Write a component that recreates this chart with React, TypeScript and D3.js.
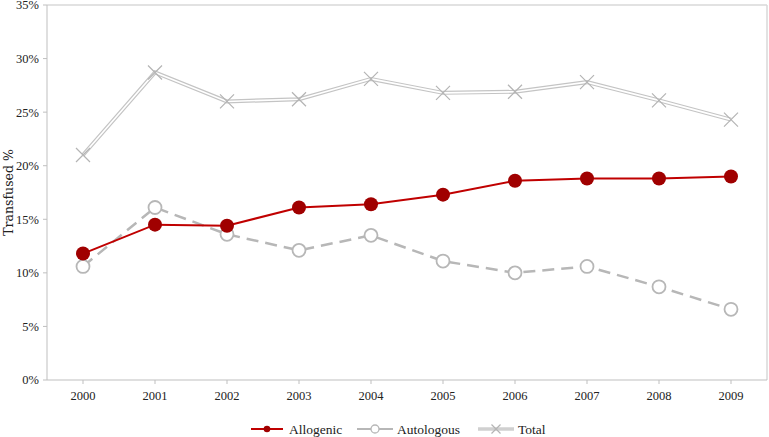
import React from "react";
import * as d3 from "d3";

const years = ["2000","2001","2002","2003","2004","2005","2006","2007","2008","2009"];
const allogenic = [11.8, 14.5, 14.4, 16.1, 16.4, 17.3, 18.6, 18.8, 18.8, 19.0];
const autologous = [10.6, 16.1, 13.6, 12.1, 13.5, 11.1, 10.0, 10.6, 8.7, 6.6];
const total = [21.0, 28.7, 26.0, 26.2, 28.1, 26.8, 26.9, 27.8, 26.1, 24.3];
const yTicks = [0, 5, 10, 15, 20, 25, 30, 35];

const W = 769, H = 437;
const L = 47, R = 767, T = 5, B = 380;
const FONT = "'Liberation Serif', serif";
const TFONT = "'DejaVu Serif', serif";

export default function App() {
  const x = d3.scaleBand().domain(years).range([L, R]);
  const cx = (y: string) => (x(y) as number) + x.bandwidth() / 2;
  const y = d3.scaleLinear().domain([0, 35]).range([B, T]);
  const line = d3.line<number>().x((_, i) => cx(years[i])).y(d => y(d));
  const grid = "#bfbfbf";
  const red = "#c00000";
  const dark = "#a00000";
  const gray = "#b7b7b7";
  const xs = (px: number, py: number, s: number, k: string) => (
    <path key={k} d={`M${px - s},${py - s}L${px + s},${py + s}M${px - s},${py + s}L${px + s},${py - s}`} stroke="#b4b4b4" strokeWidth={1.2} fill="none" />
  );
  return (
    <svg width={W} height={H} style={{ position: "absolute", left: 0, top: 0 }} fontFamily={FONT}>
      <rect x={0} y={0} width={W} height={H} fill="#fff" />
      <line x1={L} x2={R} y1={T} y2={T} stroke="#d9d9d9" strokeWidth={1.5} />
      <line x1={R} x2={R} y1={T} y2={B} stroke="#d9d9d9" strokeWidth={1.5} />
      <line x1={L} x2={L} y1={T} y2={B} stroke={grid} strokeWidth={1} />
      <line x1={L} x2={R} y1={B} y2={B} stroke={grid} strokeWidth={1} />
      {yTicks.map(t => (
        <g key={t}>
          <line x1={L - 4} x2={L} y1={y(t)} y2={y(t)} stroke={grid} />
          <text x={L - 8} y={y(t)} dy="0.35em" textAnchor="end" fontSize={12.5} fill="#222">{t}%</text>
        </g>
      ))}
      {years.map(yr => (
        <g key={yr}>
          <line x1={cx(yr)} x2={cx(yr)} y1={B} y2={B + 4} stroke={grid} />
          <text x={cx(yr)} y={B + 20} textAnchor="middle" fontSize={12.5} fill="#222">{yr}</text>
        </g>
      ))}
      <text transform={`translate(13,${(T + B) / 2}) rotate(-90)`} textAnchor="middle" fontSize={12.5} fill="#222" fontFamily={TFONT}>Transfused %</text>

      <path d={line(total) as string} fill="none" stroke="#c4c4c4" strokeWidth={4} />
      <path d={line(total) as string} fill="none" stroke="#fff" strokeWidth={1.6} />
      {total.map((v, i) => xs(cx(years[i]), y(v), 7, "t" + i))}

      <path d={line(autologous) as string} fill="none" stroke={gray} strokeWidth={2.5} strokeDasharray="12,7" />
      <path d={line(allogenic) as string} fill="none" stroke={red} strokeWidth={2} />
      {autologous.map((v, i) => (
        <circle key={"a" + i} cx={cx(years[i])} cy={y(v)} r={6.5} fill="#fff" stroke={gray} strokeWidth={1.8} />
      ))}
      {allogenic.map((v, i) => (
        <circle key={"g" + i} cx={cx(years[i])} cy={y(v)} r={7} fill={dark} />
      ))}

      <g fontSize={13.5} fill="#222">
        <line x1={251} x2={283} y1={429} y2={429} stroke={red} strokeWidth={2} />
        <circle cx={267} cy={429} r={3.3} fill={dark} />
        <text x={289} y={429} dy="0.35em">Allogenic</text>
        <line x1={357} x2={393} y1={429} y2={429} stroke={gray} strokeWidth={2} />
        <circle cx={375} cy={429} r={4} fill="#fff" stroke={gray} strokeWidth={1.3} />
        <text x={397} y={429} dy="0.35em">Autologous</text>
        <line x1={478} x2={514} y1={429} y2={429} stroke="#d0d0d0" strokeWidth={3.5} />
        {xs(496, 429, 4.5, "lx")}
        <text x={518} y={429} dy="0.35em">Total</text>
      </g>
    </svg>
  );
}
